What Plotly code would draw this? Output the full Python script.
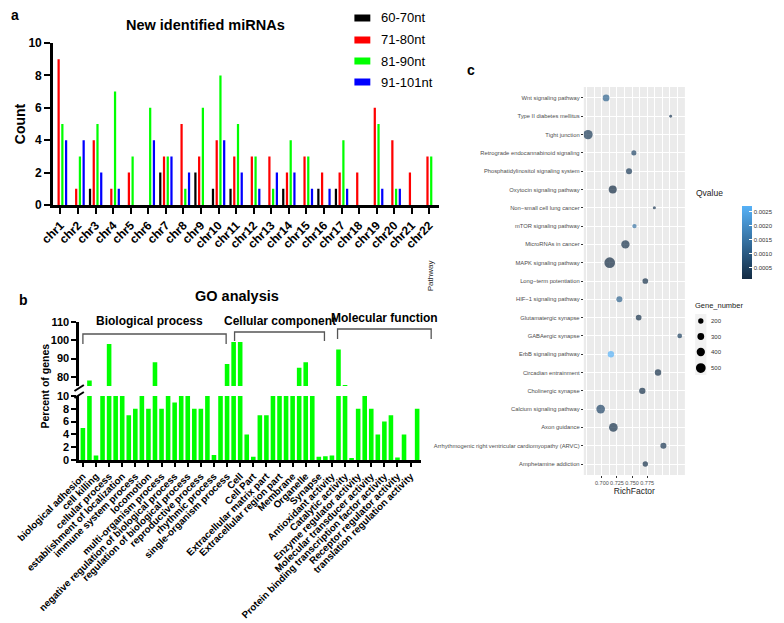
import plotly.graph_objects as go

W, H = 784, 623


def fx(p):
    return p / W


def fy(p):
    return 1 - p / H


# ---------------- Panel a: new identified miRNAs ----------------
chromosomes = ["chr1", "chr2", "chr3", "chr4", "chr5", "chr6", "chr7", "chr8", "chr9", "chr10", "chr11",
               "chr12", "chr13", "chr14", "chr15", "chr16", "chr17", "chr18", "chr19", "chr20", "chr21", "chr22"]
len_60_70 = [0, 0, 1, 0, 0, 0, 2, 0, 2, 1, 1, 0, 0, 1, 0, 1, 1, 0, 0, 0, 0, 0]
len_71_80 = [9, 1, 4, 1, 2, 0, 3, 5, 3, 4, 3, 3, 3, 2, 3, 2, 2, 2, 6, 4, 2, 3]
len_81_90 = [5, 3, 5, 7, 3, 6, 3, 1, 6, 8, 5, 3, 1, 4, 3, 0, 4, 0, 5, 1, 0, 3]
len_91_101 = [4, 4, 2, 1, 0, 4, 3, 2, 0, 4, 2, 1, 2, 2, 1, 1, 1, 0, 1, 1, 0, 0]
size_classes = ["60-70nt", "71-80nt", "81-90nt", "91-101nt"]
class_colors = ["#000000", "#FF0000", "#00FF00", "#0000FF"]

# ---------------- Panel b: GO analysis ----------------
go_percent = [5, 78, 0.7, 10, 98, 10, 10, 7, 8, 10,
              8, 88, 8, 10, 9, 10, 10, 8, 8, 10,
              0.8, 10, 87, 99, 99, 4, 0.5, 7, 7, 10,
              10, 10, 10, 85, 88, 10, 0.5, 0.6, 0.7, 95,
              75.5, 0.3, 8, 10, 8, 4, 6, 7, 0.4, 4,
              0, 8]
go_labels = ["biological adhesion", "cell killing", "cellular process", "establishment of localization",
             "immune system process", "locomotion", "multi-organism process",
             "negative regulation of biological process", "regulation of biological process",
             "reproductive process", "rhythmic process", "single-organism process",
             "Cell", "Cell Part", "Extracellular matrix part", "Extracellular region part", "Membrane",
             "Organelle", "Synapse",
             "Antioxidant activity", "Catalytic activity", "Enzyme regulator activity",
             "Molecular transducer activity", "Protein binding transcription factor activity",
             "Receptor regulator activity", "translation regulation activity"]
go_groups = ["Biological process", "Cellular component", "Molecular function"]

# ---------------- Panel c: KEGG enrichment ----------------
pathways = ["Wnt signaling pathway", "Type II diabetes mellitus", "Tight junction",
            "Retrograde endocannabinoid signaling", "Phosphatidylinositol signaling system",
            "Oxytocin signaling pathway", "Non\u2212small cell lung cancer", "mTOR signaling pathway",
            "MicroRNAs in cancer", "MAPK signaling pathway", "Long\u2212term potentiation",
            "HIF\u22121 signaling pathway", "Glutamatergic synapse", "GABAergic synapse",
            "ErbB signaling pathway", "Circadian entrainment", "Cholinergic synapse",
            "Calcium signaling pathway", "Axon guidance",
            "Arrhythmogenic right ventricular cardiomyopathy (ARVC)", "Amphetamine addiction"]
rich_factor = [0.707, 0.814, 0.677, 0.753, 0.745, 0.718, 0.787, 0.754, 0.739, 0.713, 0.772,
               0.729, 0.761, 0.829, 0.715, 0.793, 0.767, 0.698, 0.719, 0.802, 0.772]
qvalue = [0.0012, 0.0003, 0.0004, 0.0006, 0.0004, 0.0001, 0.0003, 0.0015, 0.0002, 0.0001, 0.0002,
          0.0012, 0.0002, 0.0005, 0.0027, 0.0002, 0.0002, 0.0006, 0.0002, 0.0003, 0.0002]
gene_number = [295, 30, 475, 180, 250, 385, 45, 135, 405, 565, 225,
               250, 225, 160, 270, 270, 270, 430, 430, 250, 200]
rich_ticks = [0.700, 0.725, 0.750, 0.775]
size_legend_values = [200, 300, 400, 500]


def dot_size(n):
    return 2.4 + 0.0147 * n


BOLD = "Liberation Sans, Arial, sans-serif"
SMALL = "Liberation Sans, Arial, sans-serif"

fig = go.Figure()

for name, vals, col in zip(size_classes, [len_60_70, len_71_80, len_81_90, len_91_101], class_colors):
    fig.add_trace(go.Bar(x=chromosomes, y=vals, name=name, marker=dict(color=col, line=dict(width=0)),
                         xaxis="x", yaxis="y", showlegend=False))

go_pos = list(range(len(go_percent)))
fig.add_trace(go.Bar(x=go_pos, y=go_percent, width=0.7, marker=dict(color="#00FF00", line=dict(width=0)),
                     xaxis="x2", yaxis="y2", showlegend=False))
fig.add_trace(go.Bar(x=go_pos, y=go_percent, width=0.7, marker=dict(color="#00FF00", line=dict(width=0)),
                     xaxis="x3", yaxis="y3", showlegend=False))

fig.add_trace(go.Scatter(
    x=rich_factor, y=pathways, mode="markers", xaxis="x4", yaxis="y4", showlegend=False,
    marker=dict(size=[dot_size(n) for n in gene_number], color=qvalue,
                colorscale=[[0, "#132B43"], [1, "#56B1F7"]], line=dict(width=0),
                showscale=True,
                colorbar=dict(x=fx(734), xanchor="left", xref="container", y=fy(271), yanchor="bottom",
                              yref="container", len=73, lenmode="pixels", thickness=10, outlinewidth=0,
                              dtick=0.0005, tickformat=".4f", ticks="inside", tickcolor="white",
                              ticklen=3, tickfont=dict(size=6, color="#333", family=SMALL),
                              xpad=0, ypad=0))))

axis_common = dict(showline=True, linecolor="black", linewidth=2.5, ticks="outside", tickcolor="black",
                   tickwidth=2.2, showgrid=False, zeroline=False, automargin=False)

fig.update_layout(
    template="none",
    width=W, height=H, autosize=False, margin=dict(l=0, r=0, t=0, b=0, pad=0),
    paper_bgcolor="white", plot_bgcolor="rgba(0,0,0,0)",
    barmode="group", bargap=0.15, bargroupgap=0.4, showlegend=False,
    font=dict(family=BOLD, color="black"),
    xaxis=dict(domain=[fx(48), fx(460)], range=[-0.43, 21.53], anchor="y", tickangle=-45, ticklen=6,
               tickfont=dict(size=12, family=BOLD, weight="bold"), **axis_common),
    yaxis=dict(domain=[fy(197), fy(35)], range=[0, 10], dtick=2, anchor="x", ticklen=6,
               tickfont=dict(size=12, family=BOLD, weight="bold"), **axis_common),
    xaxis2=dict(domain=[fx(76), fx(441)], range=[-0.57, 51.57], anchor="y2", tickangle=-45, ticklen=4,
                tickvals=go_pos[::2], ticktext=go_labels,
                tickfont=dict(size=9.8, family=BOLD, weight="bold"), **axis_common),
    yaxis2=dict(domain=[fy(452), fy(388)], range=[0, 10], dtick=2, anchor="x2", ticklen=5,
                tickfont=dict(size=11, family=BOLD, weight="bold"), **axis_common),
    xaxis3=dict(domain=[fx(76), fx(441)], range=[-0.57, 51.57], anchor="y3", visible=False,
                automargin=False),
    yaxis3=dict(domain=[fy(378), fy(314)], range=[75, 110], tickvals=[80, 90, 100, 110], anchor="x3",
                ticklen=5, tickfont=dict(size=11, family=BOLD, weight="bold"), **axis_common),
    xaxis4=dict(domain=[fx(615), fx(723)], range=[0.670, 0.8376], anchor="y4", automargin=False,
                tickvals=rich_ticks, tickformat=".3f", tickangle=0, showgrid=True, gridcolor="white",
                gridwidth=1.1, minor=dict(dtick=0.0125, showgrid=True, gridcolor="white", gridwidth=0.5),
                ticks="outside", ticklen=2, tickcolor="#333", zeroline=False, showline=False,
                tickfont=dict(size=5.5, color="#4D4D4D", family=SMALL),
                title=dict(text="RichFactor", font=dict(size=8.5, color="#222", family=SMALL), standoff=3)),
    yaxis4=dict(domain=[fy(467), fy(79)], anchor="x4", type="category", categoryorder="array",
                categoryarray=pathways, range=[len(pathways) - 0.4, -0.6], showgrid=True, automargin=False,
                gridcolor="white", gridwidth=1.1, ticks="outside", ticklen=2, tickcolor="#333",
                zeroline=False, showline=False, tickfont=dict(size=5.8, color="#4D4D4D", family=SMALL)),
)

shapes = []
annotations = []

# panel c grey background
shapes.append(dict(type="rect", xref="x4 domain", yref="y4 domain", x0=0, x1=1, y0=0, y1=1,
                   fillcolor="#EBEBEB", line=dict(width=0), layer="below"))

# panel c legends (Qvalue title, Gene_number size keys)
annotations.append(dict(text="Qvalue", x=fx(733), y=fy(185), xanchor="left", yanchor="middle",
                        font=dict(size=8.5, family=SMALL, color="#222")))
annotations.append(dict(text="Gene_number", x=fx(732), y=fy(297), xanchor="left", yanchor="middle",
                        font=dict(size=7.5, family=SMALL, color="#222")))
shapes.append(dict(type="rect", xref="paper", yref="paper", x0=fx(734), x1=fx(746), y0=fy(367),
                   y1=fy(306), fillcolor="#F2F2F2", line=dict(width=0)))
key_y = [313, 328.5, 344, 360]
for n, yy in zip(size_legend_values, key_y):
    d = dot_size(n)
    shapes.append(dict(type="circle", xref="paper", yref="paper", xsizemode="pixel", ysizemode="pixel",
                       xanchor=fx(740), yanchor=fy(yy), x0=-d / 2, x1=d / 2, y0=-d / 2, y1=d / 2,
                       fillcolor="black", line=dict(width=0)))
    annotations.append(dict(text=str(n), x=fx(749), y=fy(yy), xanchor="left", yanchor="middle",
                            font=dict(size=6, family=SMALL, color="#333")))

# panel a legend
legend_y = [10, 32, 53, 74]
for name, col, yy in zip(size_classes, class_colors, legend_y):
    shapes.append(dict(type="rect", xref="paper", yref="paper", x0=fx(370), x1=fx(387),
                       y0=fy(yy + 3.5), y1=fy(yy - 3.5), fillcolor=col, line=dict(width=0)))
    annotations.append(dict(text=name, x=fx(396), y=fy(yy), xanchor="left", yanchor="middle",
                            font=dict(size=13, family=BOLD, color="black")))

# panel b brackets
brackets = [(80, 233, 326, 336), (242, 338, 324, 333), (352, 452, 321, 331)]
for x0, x1, ytop, ybot in brackets:
    shapes.append(dict(type="path", xref="paper", yref="paper",
                       path=f"M{fx(x0)},{fy(ybot)} L{fx(x0)},{fy(ytop)} L{fx(x1)},{fy(ytop)} L{fx(x1)},{fy(ybot)}",
                       line=dict(color="#555", width=1.3)))
group_label_pos = [(151.5, 313), (290, 313), (402.5, 310)]
for txt, (gx, gy) in zip(go_groups, group_label_pos):
    annotations.append(dict(text=txt, x=fx(gx), y=fy(gy), xanchor="center", yanchor="middle",
                            font=dict(size=12, family=BOLD, weight="bold", color="black")))

# broken-axis gap and marks
shapes.append(dict(type="rect", xref="paper", yref="paper", x0=fx(73), x1=fx(79), y0=fy(386.5),
                   y1=fy(379.5), fillcolor="white", line=dict(width=0)))
shapes.append(dict(type="line", xref="paper", yref="paper", x0=fx(71), y0=fy(383), x1=fx(81),
                   y1=fy(377), line=dict(color="black", width=2)))
shapes.append(dict(type="line", xref="paper", yref="paper", x0=fx(71), y0=fy(390), x1=fx(81),
                   y1=fy(384), line=dict(color="black", width=2)))

# titles and labels
annotations += [
    dict(text="a", x=fx(1.5), y=fy(7), xanchor="left", font=dict(size=14, weight="bold")),
    dict(text="b", x=fx(17), y=fy(292), font=dict(size=14, weight="bold")),
    dict(text="c", x=fx(495), y=fy(62), font=dict(size=14, weight="bold")),
    dict(text="New identified miRNAs", x=fx(211), y=fy(17), font=dict(size=14.5, weight="bold")),
    dict(text="GO analysis", x=fx(245), y=fy(288), font=dict(size=14.5, weight="bold")),
    dict(text="Count", x=fx(13), y=fy(116), textangle=-90, font=dict(size=14, weight="bold")),
    dict(text="Percent of genes", x=fx(39), y=fy(378), textangle=-90, font=dict(size=10.5, weight="bold")),
    dict(text="Pathway", x=fx(451), y=fy(268), textangle=-90,
         font=dict(size=8, family=SMALL, color="#222")),
]
for a in annotations:
    a.setdefault("xref", "paper")
    a.setdefault("yref", "paper")
    a.setdefault("showarrow", False)
    a.setdefault("xanchor", "center")
    a.setdefault("yanchor", "middle")
    a["font"].setdefault("family", BOLD)
    a["font"].setdefault("color", "black")

fig.update_layout(shapes=shapes, annotations=annotations)
fig.write_html("out.html")
